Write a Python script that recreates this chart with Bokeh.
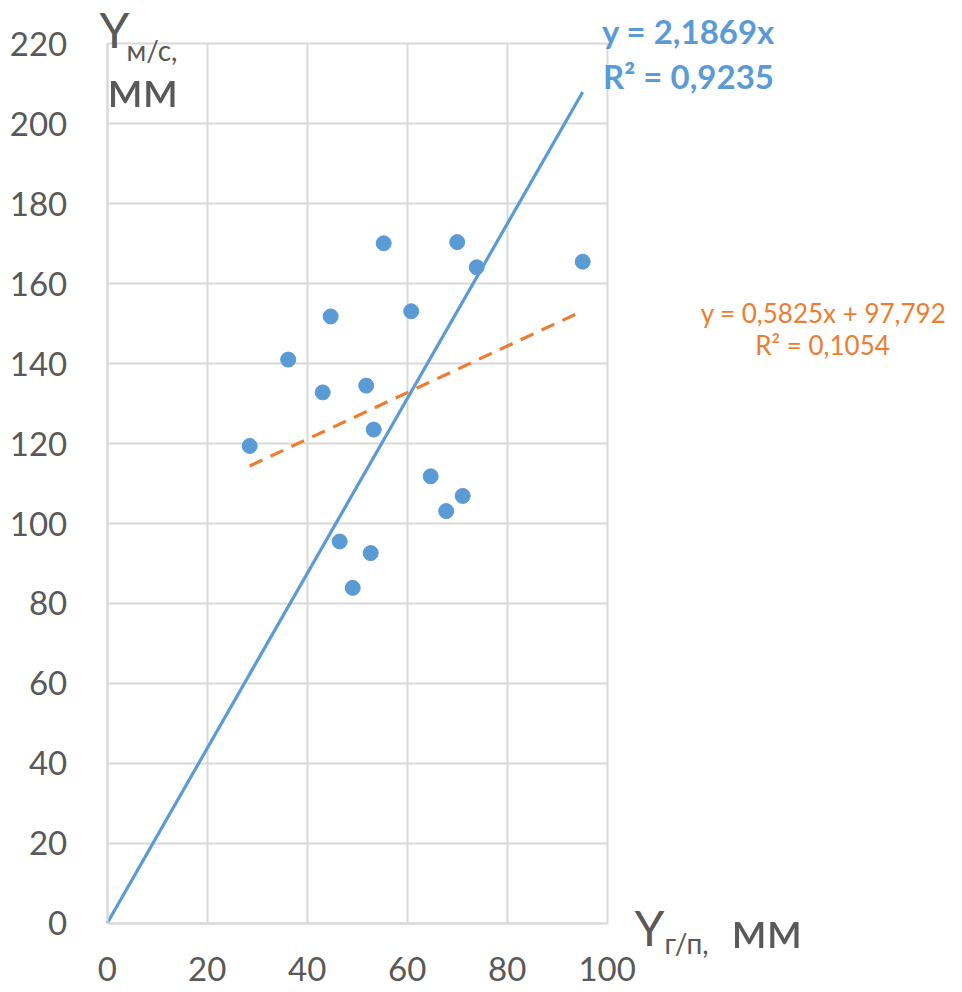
from bokeh.plotting import figure
from bokeh.models import Label, FixedTicker, Range1d, Grid
from bokeh.embed import file_html
from bokeh.resources import INLINE

# ---- data ----
x_gp = [28.5, 36.2, 43.1, 44.7, 46.5, 49.1, 51.8, 52.7, 53.3, 55.3, 60.8, 64.7, 67.8, 70.0, 71.1, 73.9, 95.1]
y_ms = [119.4, 141.0, 132.8, 151.8, 95.5, 83.9, 134.5, 92.6, 123.5, 170.1, 153.1, 111.8, 103.1, 170.4, 106.9, 164.1, 165.5]
slope_origin = 2.1869
slope_lin = 0.5825
icept_lin = 97.792
x_ticks = [0, 20, 40, 60, 80, 100]
y_ticks = [0, 20, 40, 60, 80, 100, 120, 140, 160, 180, 200, 220]
eq_blue = ["y = 2,1869x", "R² = 0,9235"]
eq_orange = ["y = 0,5825x + 97,792", "R² = 0,1054"]

FONT = "Lato"
GRAY = "#595959"
GRID = "#D9D9D9"
BLUE = "#5B9BD5"
ORANGE = "#ED7D31"

W, H = 962, 992
# pixel placement of the data area (x 0..100, y 0..220) within the canvas
X0_PX, PX_PER_X = 106.7, 5.0
Y0_PX, PX_PER_Y = 922.7, 3.997

def dx(px):
    return (px - X0_PX) / PX_PER_X

def dy(py):
    return (Y0_PX - py) / PX_PER_Y

p = figure(width=W, height=H, output_backend="svg", toolbar_location=None,
           x_range=Range1d(dx(0), dx(W)), y_range=Range1d(dy(H), dy(0)),
           min_border_left=0, min_border_right=0, min_border_top=0, min_border_bottom=0)

p.background_fill_color = "white"
p.border_fill_color = "white"
p.outline_line_color = None

for ax in (p.xaxis[0], p.yaxis[0]):
    ax.fixed_location = 0
    ax.axis_line_color = GRID
    ax.axis_line_width = 2
    ax.major_tick_line_color = None
    ax.minor_tick_line_color = None
    ax.major_label_text_font = FONT
    ax.major_label_text_font_size = "33px"
    ax.major_label_text_color = GRAY
p.xaxis[0].ticker = FixedTicker(ticks=x_ticks)
p.yaxis[0].ticker = FixedTicker(ticks=y_ticks)
p.xaxis[0].bounds = (x_ticks[0], x_ticks[-1])
p.yaxis[0].bounds = (y_ticks[0], y_ticks[-1])
p.xaxis[0].major_label_standoff = 28
p.yaxis[0].major_label_standoff = 34

has_cross = "cross_bounds" in Grid.properties()
for g, ticks, cross in ((p.xgrid[0], x_ticks, y_ticks), (p.ygrid[0], y_ticks, x_ticks)):
    g.ticker = FixedTicker(ticks=ticks)
    g.grid_line_color = GRID
    g.grid_line_width = 2
    if has_cross:
        g.cross_bounds = (cross[0], cross[-1])
    else:
        g.visible = False
if not has_cross:
    p.segment(x0=x_ticks, y0=[y_ticks[0]] * len(x_ticks), x1=x_ticks, y1=[y_ticks[-1]] * len(x_ticks),
              line_color=GRID, line_width=2, level="underlay")
    p.segment(x0=[x_ticks[0]] * len(y_ticks), y0=y_ticks, x1=[x_ticks[-1]] * len(y_ticks), y1=y_ticks,
              line_color=GRID, line_width=2, level="underlay")

# trend lines
xmax = max(x_gp)
xmin = min(x_gp)
p.line([0, xmax], [0, slope_origin * xmax], line_color=BLUE, line_width=3.2)
p.line([xmin, xmax], [slope_lin * xmin + icept_lin, slope_lin * xmax + icept_lin],
       line_color=ORANGE, line_width=3.2, line_dash="14 9")

p.scatter(x_gp, y_ms, size=15, fill_color=BLUE, line_color=BLUE)

def lab(px, py, text, size, color=GRAY, align="left", style="normal"):
    # py is the baseline in pixels; Label uses bottom of text box
    bottom = py + 0.217 * size
    p.add_layout(Label(x=dx(px), y=dy(bottom), text=text, text_font=FONT,
                       text_font_size=f"{size}px", text_color=color, text_align=align,
                       text_baseline="bottom", text_font_style=style))

# y-axis title
lab(99, 47, "Y", 48)
lab(126, 60, "м/с,", 28)
lab(107, 107, "мм", 50)
# x-axis title
lab(634, 945, "Y", 48)
lab(664, 953, "г/п,", 28)
lab(731, 948, "мм", 50)

# equations
lab(688, 43, eq_blue[0], 33, BLUE, "center", "bold")
lab(688, 88, eq_blue[1], 33, BLUE, "center", "bold")
lab(823, 323, eq_orange[0], 26, ORANGE, "center")
lab(822, 355, eq_orange[1], 26, ORANGE, "center")

open("out.html", "w").write(file_html(p, INLINE))
